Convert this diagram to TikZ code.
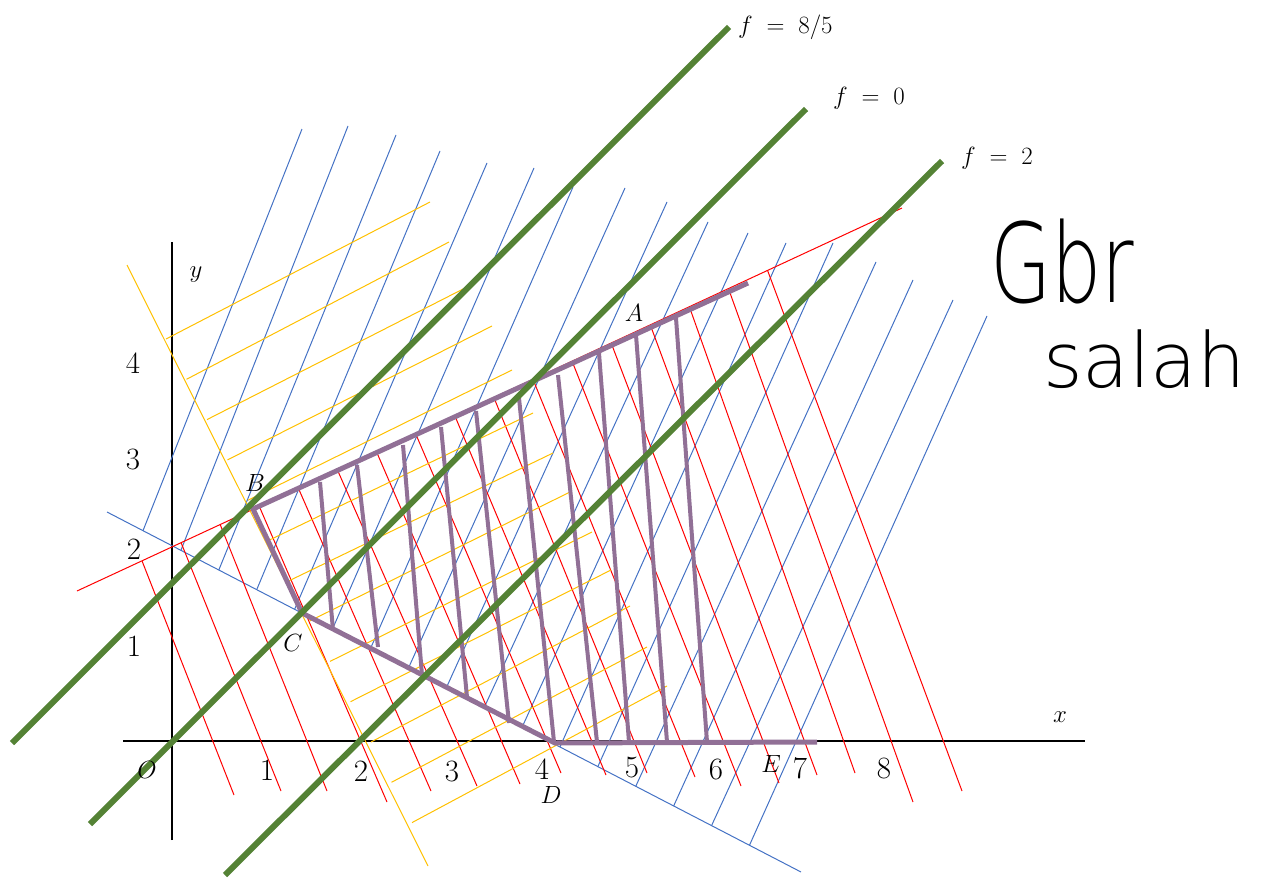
\documentclass[tikz,border=0pt]{standalone}
\usepackage{fontspec}
\newfontfamily\handfont{DejaVu Sans ExtraLight}
\definecolor{hblue}{RGB}{68,114,196}
\definecolor{hred}{RGB}{255,0,0}
\definecolor{hyellow}{RGB}{255,192,0}
\definecolor{hgreen}{RGB}{84,130,53}
\definecolor{hpurple}{RGB}{145,112,150}
\begin{document}
\begin{tikzpicture}[x=1pt,y=-1pt,
  bluel/.style={draw=hblue,line width=1pt},
  redl/.style={draw=hred,line width=1pt},
  yell/.style={draw=hyellow,line width=1pt},
  greenl/.style={draw=hgreen,line width=6pt},
  purpl/.style={draw=hpurple,line width=5pt,line join=miter},
  purph/.style={draw=hpurple,line width=4pt},
  axisl/.style={draw=black,line width=1.2pt},
  lab/.style={font=\fontsize{31}{36}\selectfont,inner sep=0pt},
  hand/.style={font=\handfont,inner sep=0pt,anchor=base west}]
\useasboundingbox (0,0) rectangle (1262,878);
% axes
\coordinate (xa) at (123,741); \coordinate (xb) at (1085,741);
\coordinate (ya) at (172,840); \coordinate (yb) at (172,242);
\draw[axisl] (xa) -- (xb);
\draw[axisl] (ya) -- (yb);
% blue boundary and hatching
\coordinate (bl1) at (107,512); \coordinate (bl2) at (801,872);
\draw[bluel] (bl1) -- (bl2);
\foreach \tx/\ty [count=\i from 0] in {302/129,348/126,396/135,440/151,487/163,534/168,573/187,625/188,667/202,708/222,748/233,786/243,833/243,876/262,913/280,953/300,987/316}{
  \pgfmathsetmacro{\bx}{143+37.9*\i}
  \pgfmathsetmacro{\by}{512+0.519*(\bx-107)}
  \draw[bluel] (\tx,\ty) -- (\bx,\by);
}
% red boundary and hatching
\coordinate (rl1) at (77,591); \coordinate (rl2) at (902,208);
\draw[redl] (rl1) -- (rl2);
\foreach \ex/\ey [count=\i from 0] in {234/795,281/791,327/791,387/802,431/791,477/786,520/784,561/773,606/775,647/773,695/777,741/786,779/783,817/775,855/773,913/802,962/791}{
  \pgfmathsetmacro{\tx}{142+39.1*\i}
  \pgfmathsetmacro{\ty}{591-0.464*(\tx-77)}
  \draw[redl] (\tx,\ty) -- (\ex,\ey);
}
% yellow boundary and hatching
\coordinate (yl1) at (127,265); \coordinate (yl2) at (428,866);
\draw[yell] (yl1) -- (yl2);
\foreach \ex/\ey [count=\i from 0] in {430/202,449/242,467/287,492/326,512/370,533/413,553/453,570/492,592/532,611/570,630/606,647/647,667/686}{
  \pgfmathsetmacro{\sx}{166+20.5*\i}
  \pgfmathsetmacro{\sy}{339+40.3*\i}
  \draw[yell] (\sx,\sy) -- (\ex,\ey);
}
% purple region
\coordinate (B) at (253,509);
\coordinate (Aend) at (748,283);
\coordinate (C) at (302,613);
\coordinate (D) at (555,743);
\coordinate (E) at (817,742);
\foreach \ax/\ay/\bx/\by in {320/482/333/630,357/465/378/647,403/445/422/675,441/427/467/697,476/411/509/723,519/398/554/742,558/375/597/742,599/353/629/742,636/335/667/742,676/318/707/742}{
  \draw[purph] (\ax,\ay) -- (\bx,\by);
}
\draw[purpl] (Aend) -- (B) -- (C) -- (D) -- (E);
% green level lines
\coordinate (g1a) at (12,743); \coordinate (g1b) at (729,27);
\coordinate (g2a) at (90,824); \coordinate (g2b) at (806,109);
\coordinate (g3a) at (225,875); \coordinate (g3b) at (942,161);
\draw[greenl] (g1a) -- (g1b);
\draw[greenl] (g2a) -- (g2b);
\draw[greenl] (g3a) -- (g3b);
% labels
\node[lab,anchor=west] (f1) at (738,27) {$f\;=\;8/5$};
\node[lab,anchor=west] (f2) at (833,98) {$f\;=\;0$};
\node[lab,anchor=west] (f3) at (961,158) {$f\;=\;2$};
\node[lab] (lx1) at (267,770) {1};
\node[lab] (lx2) at (361,771) {2};
\node[lab] (lx3) at (452,771) {3};
\node[lab] (lx4) at (542,769) {4};
\node[lab] (lx5) at (632,768) {5};
\node[lab] (lx6) at (716,769) {6};
\node[lab] (lx7) at (800,768) {7};
\node[lab] (lx8) at (884,768) {8};
\node[lab] (ly1) at (134,646) {1};
\node[lab] (ly2) at (134,549) {2};
\node[lab] (ly3) at (133,459) {3};
\node[lab] (ly4) at (133,363) {4};
\node[lab] (lO) at (147,770) {$O$};
\node[lab] (lxx) at (1060,717) {$x$};
\node[lab] (lyy) at (196,275) {$y$};
\node[lab] (lA) at (634,313) {$A$};
\node[lab] (lB) at (255,483) {$B$};
\node[lab] (lC) at (293,643) {$C$};
\node[lab] (lD) at (551,795) {$D$};
\node[lab] (lE) at (771,764) {$E$};
% handwritten note
\node[hand] (gbr) at (990,302) {\fontsize{110}{110}\selectfont\scalebox{0.72}[1]{Gbr}};
\node[hand] (salah) at (1043,387) {\fontsize{76}{76}\selectfont salah};
\end{tikzpicture}
\end{document}
